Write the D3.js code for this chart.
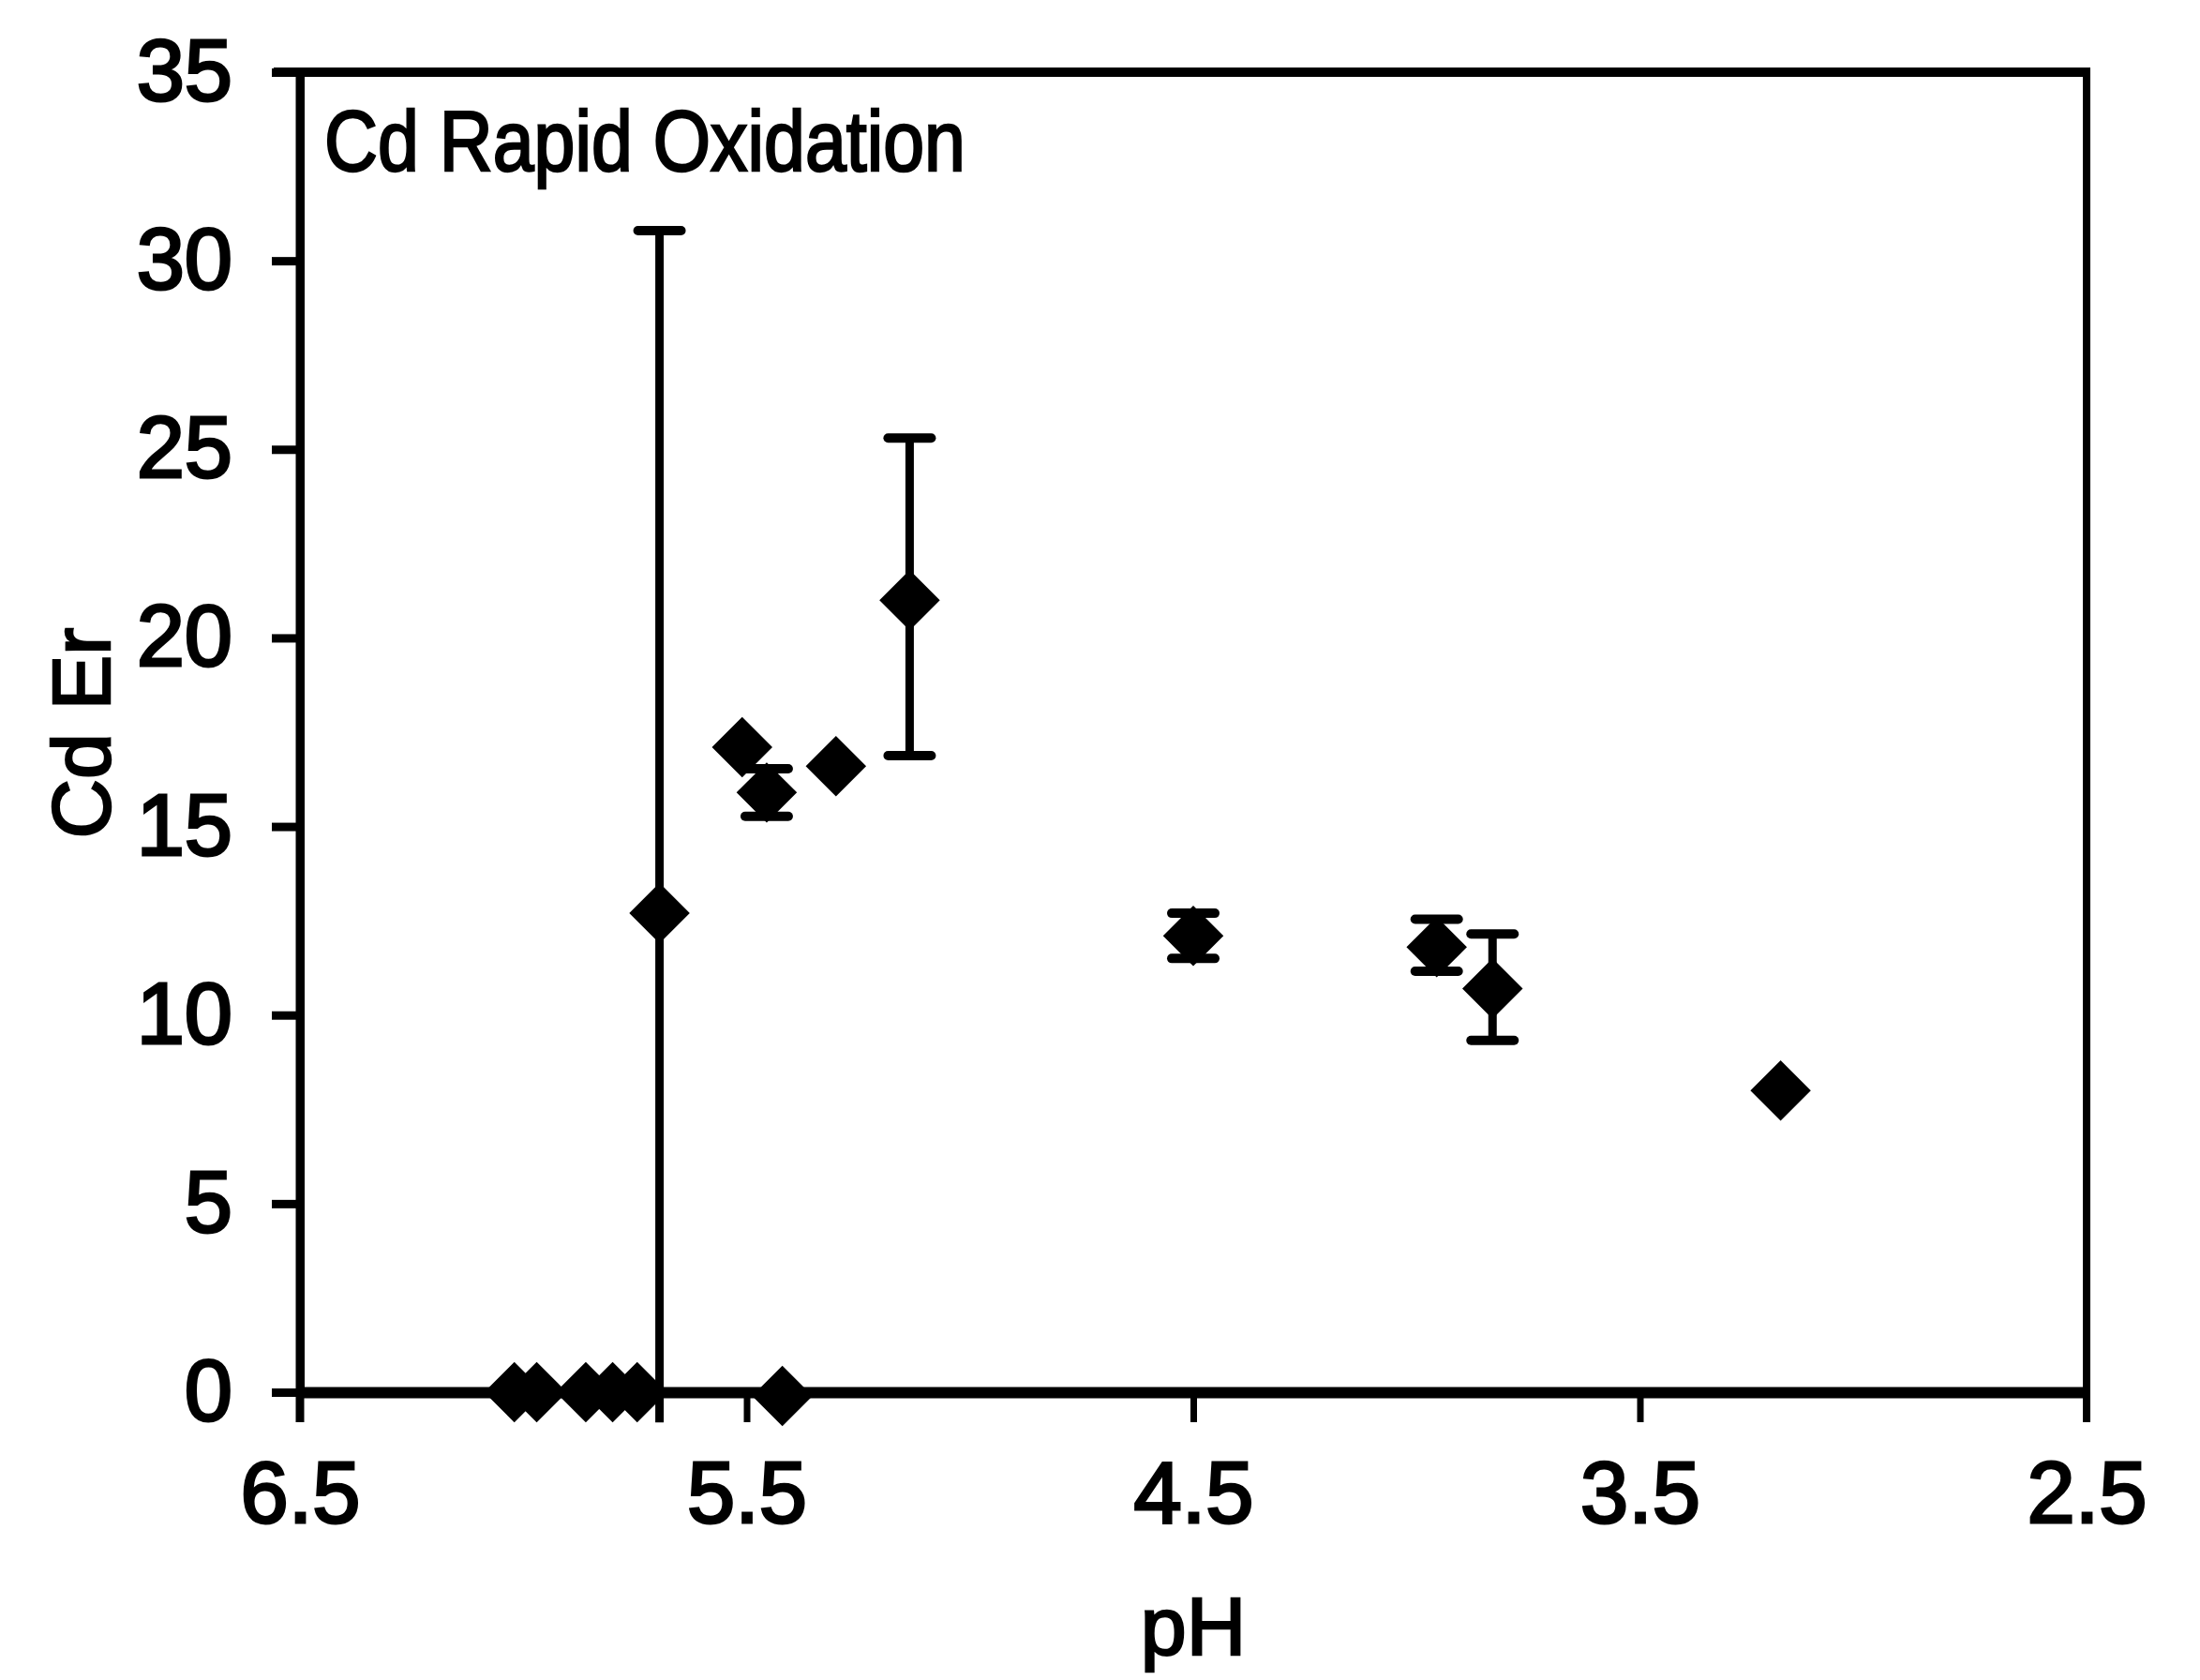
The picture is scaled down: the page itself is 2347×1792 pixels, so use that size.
<!DOCTYPE html>
<html>
<head>
<meta charset="utf-8">
<script src="https://cdn.jsdelivr.net/npm/d3@7"></script>
<style>
  body { margin: 0; background: #fff; }
  text { font-family: 'Liberation Sans', Arial, sans-serif; fill: #000; }
</style>
</head>
<body>
<div id="chart"></div>
<script>
// Cd Er vs pH
const ph = [6.02, 5.97, 5.86, 5.80, 5.745, 5.695, 5.42, 5.51, 5.455, 5.30, 5.135, 4.50, 3.955, 3.83, 3.185]
const cdEr = [0, 0, 0, 0, 0, 12.7, -0.1, 17.1, 15.9, 16.6, 21.0, 12.1, 11.8, 10.7, 8.0]
// error bar ends (null = no bar); the big one is cut off at the bottom
const errLow = [null, null, null, null, null, -0.8, null, null, 15.27, null, 16.88, 11.5, 11.16, 9.33, null]
const errHigh = [null, null, null, null, null, 30.8, null, null, 16.53, null, 25.3, 12.7, 12.54, 12.15, null]

const xTicks = [6.5, 5.5, 4.5, 3.5, 2.5]
const yTicks = [0, 5, 10, 15, 20, 25, 30, 35]

const chartTitle = 'Cd Rapid Oxidation'
const xLabel = 'pH'
const yLabel = 'Cd Er'

const margin = { top: 77, left: 320, right: 121, bottom: 307 }
const width = 2347 - margin.left - margin.right
const height = 1792 - margin.top - margin.bottom

const svg = d3
  .select('#chart')
  .append('svg')
  .attr('width', 2347)
  .attr('height', 1792)
  .style('background', '#fff')
  .append('g')
  .attr('transform', 'translate(' + margin.left + ',' + margin.top + ')')

const xScale = d3.scaleLinear().domain([6.5, 2.5]).range([0, width])
const yScale = d3.scaleLinear().domain([0, 35]).range([height, 0])

// top and right frame lines
svg.append('line')
  .attr('x1', -28).attr('x2', width)
  .attr('y1', 0).attr('y2', 0)
  .attr('stroke', '#000').attr('stroke-width', 10)
svg.append('line')
  .attr('x1', width).attr('x2', width)
  .attr('y1', -5).attr('y2', height + 32)
  .attr('stroke', '#000').attr('stroke-width', 8)

// y axis
const yAxis = d3.axisLeft(yScale)
  .tickValues(yTicks)
  .tickFormat(d3.format('d'))
  .tickSizeInner(30)
  .tickSizeOuter(0)
  .tickPadding(42)

const yG = svg.append('g').call(yAxis)
yG.select('.domain').attr('stroke', '#000').attr('stroke-width', 9)
yG.selectAll('.tick line').attr('stroke', '#000').attr('stroke-width', 9)
yG.selectAll('.tick text')
  .attr('font-size', 92)
  .attr('stroke', '#000')
  .attr('stroke-width', 3)
  .attr('font-family', "'Liberation Sans', Arial, sans-serif")

// x axis
const xAxis = d3.axisBottom(xScale)
  .tickValues(xTicks)
  .tickFormat(d3.format('.1f'))
  .tickSizeInner(32)
  .tickSizeOuter(0)
  .tickPadding(42)

const xG = svg.append('g')
  .attr('transform', 'translate(0,' + height + ')')
  .call(xAxis)
xG.select('.domain').attr('stroke', '#000').attr('stroke-width', 12)
xG.selectAll('.tick line').attr('stroke', '#000').attr('stroke-width', 7)
xG.selectAll('.tick text')
  .attr('font-size', 92)
  .attr('stroke', '#000')
  .attr('stroke-width', 3)
  .attr('font-family', "'Liberation Sans', Arial, sans-serif")

// y axis line runs down to the 6.5 tick
svg.append('line')
  .attr('x1', 0).attr('x2', 0)
  .attr('y1', -5).attr('y2', height + 32)
  .attr('stroke', '#000').attr('stroke-width', 9)

const points = ph.map((p, i) => ({ ph: p, er: cdEr[i], lo: errLow[i], hi: errHigh[i] }))
const withErr = points.filter(d => d.hi !== null)

// error bars
svg.selectAll('.err')
  .data(withErr)
  .enter()
  .append('line')
  .attr('class', 'err')
  .attr('x1', d => xScale(d.ph))
  .attr('x2', d => xScale(d.ph))
  .attr('y1', d => yScale(d.lo))
  .attr('y2', d => yScale(d.hi))
  .attr('stroke', '#000')
  .attr('stroke-width', 9)

const caps = []
withErr.forEach(d => {
  caps.push({ ph: d.ph, v: d.hi })
  if (d.lo >= 0) caps.push({ ph: d.ph, v: d.lo })
})

svg.selectAll('.cap')
  .data(caps)
  .enter()
  .append('line')
  .attr('class', 'cap')
  .attr('x1', d => xScale(d.ph) - 23)
  .attr('x2', d => xScale(d.ph) + 23)
  .attr('y1', d => yScale(d.v))
  .attr('y2', d => yScale(d.v))
  .attr('stroke', '#000')
  .attr('stroke-width', 10)
  .attr('stroke-linecap', 'round')

// diamond markers
const diamond = d3.symbol().type(d3.symbolDiamond2).size(2650)
svg.selectAll('.pt')
  .data(points)
  .enter()
  .append('path')
  .attr('class', 'pt')
  .attr('d', diamond)
  .attr('fill', '#000')
  .attr('transform', d => `translate(${xScale(d.ph)},${yScale(d.er)})`)

// texts
svg.append('text')
  .text(chartTitle)
  .attr('x', 26)
  .attr('y', 105)
  .attr('font-size', 90)
  .attr('textLength', 684)
  .attr('lengthAdjust', 'spacingAndGlyphs')
  .attr('stroke', '#000')
  .attr('stroke-width', 2.5)

svg.append('text')
  .text(xLabel)
  .attr('x', width / 2)
  .attr('y', height + 280)
  .attr('text-anchor', 'middle')
  .attr('font-size', 88)
  .attr('stroke', '#000')
  .attr('stroke-width', 2.5)

svg.append('text')
  .text(yLabel)
  .attr('transform', `translate(${117 - margin.left},${782 - margin.top}) rotate(-90)`)
  .attr('text-anchor', 'middle')
  .attr('font-size', 88)
  .attr('stroke', '#000')
  .attr('stroke-width', 2.5)
</script>
</body>
</html>
